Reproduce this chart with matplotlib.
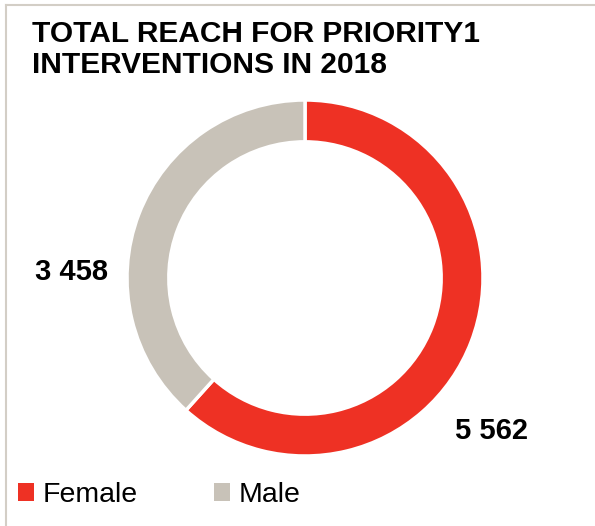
import matplotlib.pyplot as plt
from matplotlib.patches import Patch
from matplotlib.lines import Line2D

# data
labels = ['Female', 'Male']
values = [5562, 3458]
colors = ['#EE3124', '#C8C2B8']
title = 'TOTAL REACH FOR PRIORITY1\nINTERVENTIONS IN 2018'

W, H = 595, 526
fig = plt.figure(figsize=(W / 100, H / 100), dpi=100)
plt.rcParams['font.family'] = ['Liberation Sans', 'DejaVu Sans']

# border (top and left only)
fig.add_artist(Line2D([6 / W, 1], [1 - 5 / H, 1 - 5 / H], color='#D3CEC6', lw=1.5))
fig.add_artist(Line2D([6 / W, 6 / W], [0, 1 - 5 / H], color='#D3CEC6', lw=1.5))

# title
fig.text(32 / W, 1 - 20 / H, title, ha='left', va='top', fontsize=21.5,
         fontweight='bold', linespacing=1.12)

# donut
cx, cy, R = 305, 278, 178
ax = fig.add_axes([(cx - R) / W, (H - cy - R) / H, 2 * R / W, 2 * R / H])
wedges, _ = ax.pie(values, colors=colors, startangle=90, counterclock=False,
                   radius=1, wedgeprops=dict(width=0.235, edgecolor='white', linewidth=2.5))
ax.set_xlim(-1, 1)
ax.set_ylim(-1, 1)
ax.set_axis_off()

fmt = lambda v: f'{v:,}'.replace(',', ' ')
ax.text(1.045, -0.86, fmt(values[0]), ha='center', va='center', fontsize=21,
        fontweight='bold', clip_on=False)
ax.text(-1.31, 0.034, fmt(values[1]), ha='center', va='center', fontsize=21,
        fontweight='bold', clip_on=False)

# legend
handles = [Patch(facecolor=c, edgecolor='none') for c in colors]
fig.legend(handles, labels, loc='lower left', bbox_to_anchor=(18 / W, 18 / H),
           ncol=2, frameon=False, fontsize=20.5, handlelength=0.55, handleheight=0.55,
           handletextpad=0.3, columnspacing=2.7, borderpad=0, borderaxespad=0)

fig.savefig('out.png', dpi=100)
